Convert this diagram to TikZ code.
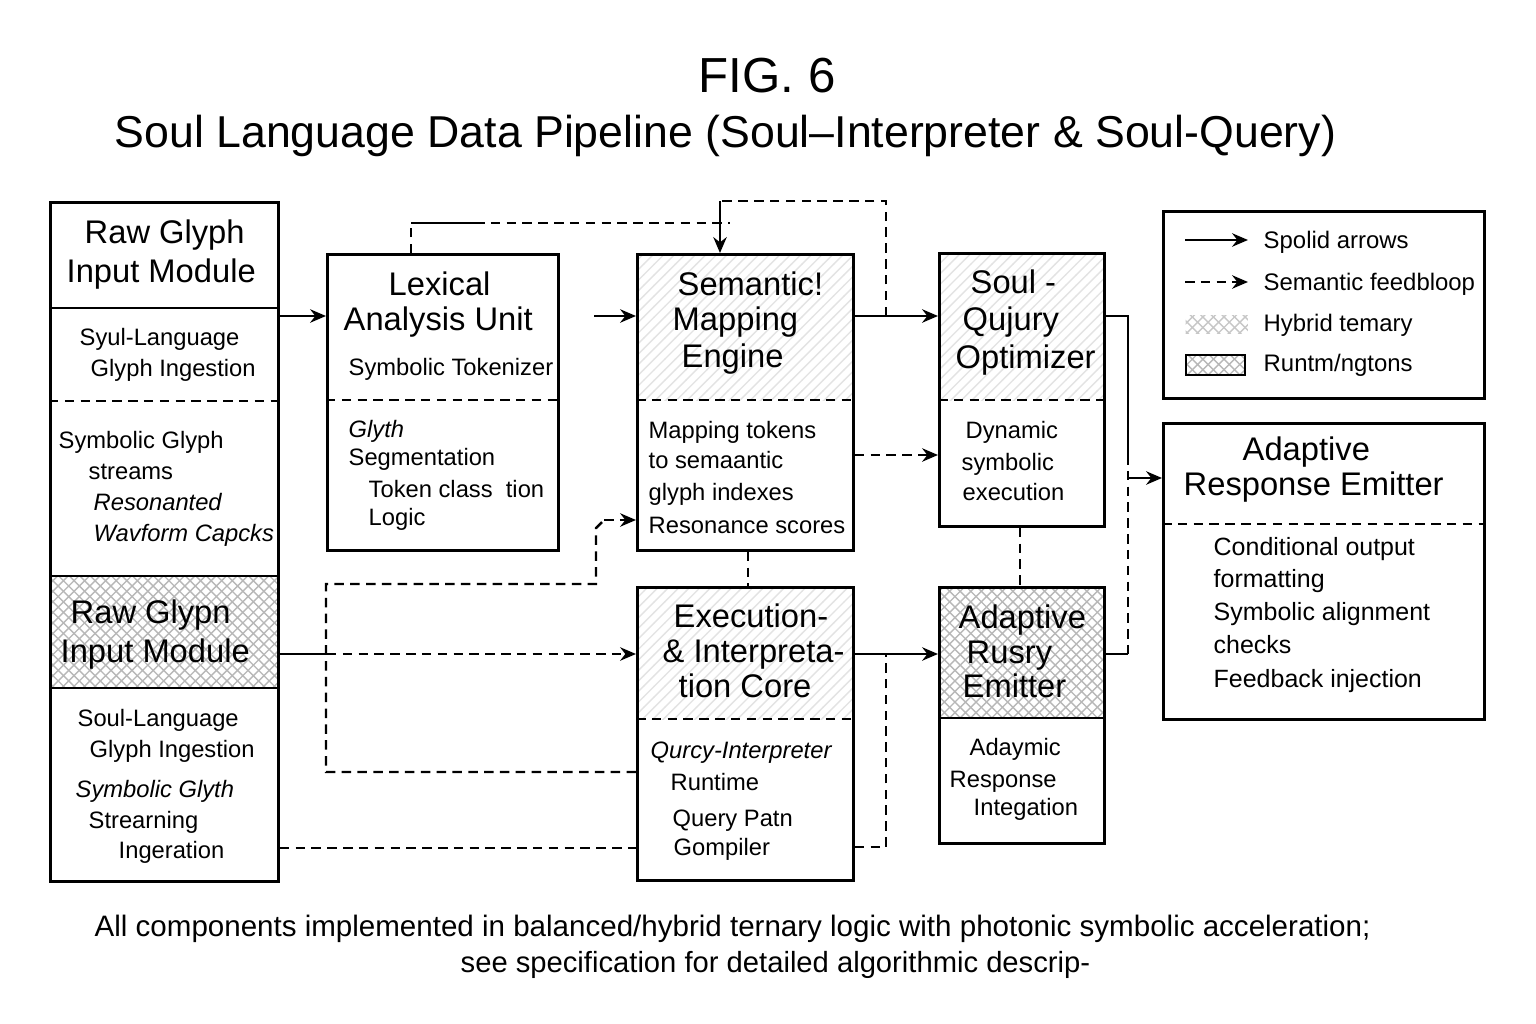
\documentclass[tikz,border=0pt]{standalone}
\usepackage{fontspec}
\setmainfont{Liberation Sans}
\usetikzlibrary{arrows.meta, patterns}

\begin{document}
\begin{tikzpicture}[x=0.01cm, y=-0.01cm,
  box/.style={draw, line width=0.75pt, anchor=north west, inner sep=0},
  hatchx/.style={pattern=crosshatch, pattern color=black!28, anchor=north west, inner sep=0},
  hatchf/.style={pattern=north east lines, pattern color=black!11, anchor=north west, inner sep=0},
  hd/.style={font=\fontsize{9.3}{11}\selectfont, anchor=base west, inner sep=0},
  txt/.style={font=\fontsize{6.75}{8}\selectfont, anchor=base west, inner sep=0},
  txtit/.style={txt, font=\fontsize{6.75}{8}\selectfont\itshape},
  wire/.style={line width=0.7pt},
  fb/.style={wire, dash pattern=on 2.7pt off 1.8pt},
  tip/.style={-{Stealth[length=4.5pt, width=3.8pt]}},
  flow/.style={wire, tip},
]
  \path[fill=white, use as bounding box] (0,0) rectangle (1536,1024);

  % Title
  \node[font=\fontsize{14}{16}\selectfont, anchor=base, inner sep=0] (fig) at (767,92) {FIG. 6};
  \node[font=\fontsize{12.7}{15}\selectfont, anchor=base west, inner sep=0] (ttl) at (114,147)
    {Soul Language Data Pipeline (Soul--Interpreter \& Soul-Query)};

  % Hatched areas (under the frames)
  \node[hatchx, minimum width=2.28cm, minimum height=1.12cm] (rawH) at (49,576) {};
  \node[hatchf, minimum width=2.16cm, minimum height=1.47cm] (semH) at (636,253) {};
  \node[hatchf, minimum width=1.65cm, minimum height=1.48cm] (sqH) at (938,252) {};
  \node[hatchf, minimum width=2.16cm, minimum height=1.33cm] (exeH) at (636,586) {};
  \node[hatchx, minimum width=1.65cm, minimum height=1.32cm] (rusH) at (938,586) {};

  % Raw glyph input column
  \node[box, minimum width=2.28cm, minimum height=6.79cm] (raw) at (49,201) {};
  \draw[wire] (raw.west |- 0,308) -- (raw.east |- 0,308);
  \draw[fb] (raw.west |- 0,401) -- (raw.east |- 0,401);
  \draw[wire] (raw.west |- 0,576) -- (raw.east |- 0,576);
  \draw[wire] (raw.west |- 0,688) -- (raw.east |- 0,688);
  \node[hd] (raw1) at (84,243) {Raw Glyph};
  \node[hd] (raw2) at (66,282) {Input Module};
  \node[txt] (raw3) at (79,345) {Syul-Language};
  \node[txt] (raw4) at (90,376) {Glyph Ingestion};
  \node[txt] (raw5) at (58,448) {Symbolic Glyph};
  \node[txt] (raw6) at (88,479) {streams};
  \node[txtit] (raw7) at (93,510) {Resonanted};
  \node[txtit] (raw8) at (93,541) {Wavform Capcks};
  \node[hd] (raw9) at (70,623) {Raw Glypn};
  \node[hd] (raw10) at (60,662) {Input Module};
  \node[txt] (raw11) at (77,726) {Soul-Language};
  \node[txt] (raw12) at (89,757) {Glyph Ingestion};
  \node[txtit] (raw13) at (75,797) {Symbolic Glyth};
  \node[txt] (raw14) at (88,828) {Strearning};
  \node[txt] (raw15) at (118,858) {Ingeration};

  % Lexical analysis
  \node[box, minimum width=2.31cm, minimum height=2.96cm] (lex) at (326,253) {};
  \draw[fb] (lex.west |- 0,400) -- (lex.east |- 0,400);
  \node[hd] (lex1) at (388,295) {Lexical};
  \node[hd] (lex2) at (343,330) {Analysis Unit};
  \node[txt] (lex3) at (348,375) {Symbolic Tokenizer};
  \node[txtit] (lex4) at (348,437) {Glyth};
  \node[txt] (lex5) at (348,465) {Segmentation};
  \node[txt] (lex6) at (368,497) {Token class\ \ tion};
  \node[txt] (lex7) at (368,525) {Logic};

  % Semantic mapping
  \node[box, minimum width=2.16cm, minimum height=2.96cm] (sem) at (636,253) {};
  \draw[fb] (sem.west |- 0,400) -- (sem.east |- 0,400);
  \node[hd] (sem1) at (677,295) {Semantic!};
  \node[hd] (sem2) at (672,330) {Mapping};
  \node[hd] (sem3) at (681,367) {Engine};
  \node[txt] (sem4) at (648,438) {Mapping tokens};
  \node[txt] (sem5) at (648,468) {to semaantic};
  \node[txt] (sem6) at (648,500) {glyph indexes};
  \node[txt] (sem7) at (648,533) {Resonance scores};

  % Soul-Query optimizer
  \node[box, minimum width=1.65cm, minimum height=2.73cm] (sq) at (938,252) {};
  \draw[fb] (sq.west |- 0,400) -- (sq.east |- 0,400);
  \node[hd] (sq1) at (970,293) {Soul -};
  \node[hd] (sq2) at (962,330) {Qujury};
  \node[hd] (sq3) at (955,368) {Optimizer};
  \node[txt] (sq4) at (965,438) {Dynamic};
  \node[txt] (sq5) at (961,470) {symbolic};
  \node[txt] (sq6) at (962,500) {execution};

  % Execution core
  \node[box, minimum width=2.16cm, minimum height=2.93cm] (exe) at (636,586) {};
  \draw[fb] (exe.west |- 0,719) -- (exe.east |- 0,719);
  \node[hd] (exe1) at (673,627) {Execution-};
  \node[hd] (exe2) at (662,662) {\& Interpreta-};
  \node[hd] (exe3) at (678,697) {tion Core};
  \node[txtit] (exe4) at (650,758) {Qurcy-Interpreter};
  \node[txt] (exe5) at (670,790) {Runtime};
  \node[txt] (exe6) at (672,826) {Query Patn};
  \node[txt] (exe7) at (673,855) {Gompiler};

  % Adaptive rusry emitter
  \node[box, minimum width=1.65cm, minimum height=2.56cm] (rus) at (938,586) {};
  \draw[wire] (rus.west |- 0,718) -- (rus.east |- 0,718);
  \node[hd] (rus1) at (958,628) {Adaptive};
  \node[hd] (rus2) at (966,663) {Rusry};
  \node[hd] (rus3) at (962,697) {Emitter};
  \node[txt] (rus4) at (969,755) {Adaymic};
  \node[txt] (rus5) at (949,787) {Response};
  \node[txt] (rus6) at (973,815) {Integation};

  % Legend
  \node[box, minimum width=3.21cm, minimum height=1.87cm] (leg) at (1162,210) {};
  \draw[flow] (1185,240) -- (1248,240);
  \draw[fb, tip] (1185,282) -- (1248,282);
  \node[hatchx, pattern color=black!22, minimum width=0.62cm, minimum height=0.18cm] (swA) at (1185,315) {};
  \node[hatchx, draw, line width=0.6pt, minimum width=0.59cm, minimum height=0.2cm] (swB) at (1185,354) {};
  \node[txt, font=\fontsize{6.8}{8}\selectfont] (leg1) at (1263,248) {Spolid arrows};
  \node[txt, font=\fontsize{6.8}{8}\selectfont] (leg2) at (1263,290) {Semantic feedbloop};
  \node[txt, font=\fontsize{6.8}{8}\selectfont] (leg3) at (1263,331) {Hybrid temary};
  \node[txt, font=\fontsize{6.8}{8}\selectfont] (leg4) at (1263,371) {Runtm/ngtons};

  % Adaptive response emitter
  \node[box, minimum width=3.21cm, minimum height=2.96cm] (are) at (1162,422) {};
  \draw[fb] (are.west |- 0,524) -- (are.east |- 0,524);
  \node[hd] (are1) at (1242,460) {Adaptive};
  \node[hd] (are2) at (1183,495) {Response Emitter};
  \node[txt, font=\fontsize{7.1}{8}\selectfont] (are3) at (1213,555) {Conditional output};
  \node[txt, font=\fontsize{7.1}{8}\selectfont] (are4) at (1213,587) {formatting};
  \node[txt, font=\fontsize{7.1}{8}\selectfont] (are5) at (1213,620) {Symbolic alignment};
  \node[txt, font=\fontsize{7.1}{8}\selectfont] (are6) at (1213,653) {checks};
  \node[txt, font=\fontsize{7.1}{8}\selectfont] (are7) at (1213,687) {Feedback injection};

  % Main flow
  \coordinate (semFeed) at (594,316);
  \draw[flow] (raw.east |- 0,316) -- (lex.west |- 0,316);
  \draw[flow] (semFeed) -- (sem.west |- 0,316);
  \draw[flow] (sem.east |- 0,316) -- (sq.west |- 0,316);
  \draw[flow] (exe.east |- 0,654) -- (rus.west |- 0,654);
  \draw[wire] (raw.east |- 0,654) -- (327,654);
  \draw[fb, tip] (327,654) -- (exe.west |- 0,654);

  % Feedback over the top
  \coordinate (lexTap) at (730,223);
  \draw[fb] (886,316) -- (886,201) -- (720,201);
  \draw[flow] (720,201) -- (sem.north -| 720,0);
  \draw[fb] (lex.north -| 411,0) -- (411,223);
  \draw[wire] (411,223) -- (475,223);
  \draw[fb] (475,223) -- (lexTap);

  % Semantic to optimizer, vertical taps
  \draw[fb, tip] (sem.east |- 0,455) -- (sq.west |- 0,455);
  \draw[fb] (sem.south -| 748,0) -- (exe.north -| 748,0);
  \draw[fb] (sq.south -| 1020,0) -- (rus.north -| 1020,0);

  % Optimizer out to emitter
  \draw[wire] (sq.east |- 0,316) -- (1128,316) -- (1128,455);
  \draw[fb] (1128,455) -- (1128,654);
  \draw[wire] (1128,654) -- (rus.east |- 0,654);
  \draw[flow] (1128,478) -- (are.west |- 0,478);

  % Lower feedback loops
  \draw[fb] (exe.west |- 0,772) -- (326,772) -- (326,584) -- (596,584) -- (596,528) -- (604,520);
  \draw[fb, tip] (604,520) -- (sem.west |- 0,520);
  \draw[fb] (raw.east |- 0,848) -- (exe.west |- 0,848);
  \draw[fb] (exe.east |- 0,847) -- (886,847) -- (886,654);

  % Footnote
  \node[font=\fontsize{8.4}{10}\selectfont, anchor=base west, inner sep=0] (note1) at (94,936)
    {All components implemented in balanced/hybrid ternary logic with photonic symbolic acceleration;};
  \node[font=\fontsize{8.3}{10}\selectfont, anchor=base west, inner sep=0] (note2) at (460,972)
    {see specification for detailed algorithmic descrip-};
\end{tikzpicture}
\end{document}
